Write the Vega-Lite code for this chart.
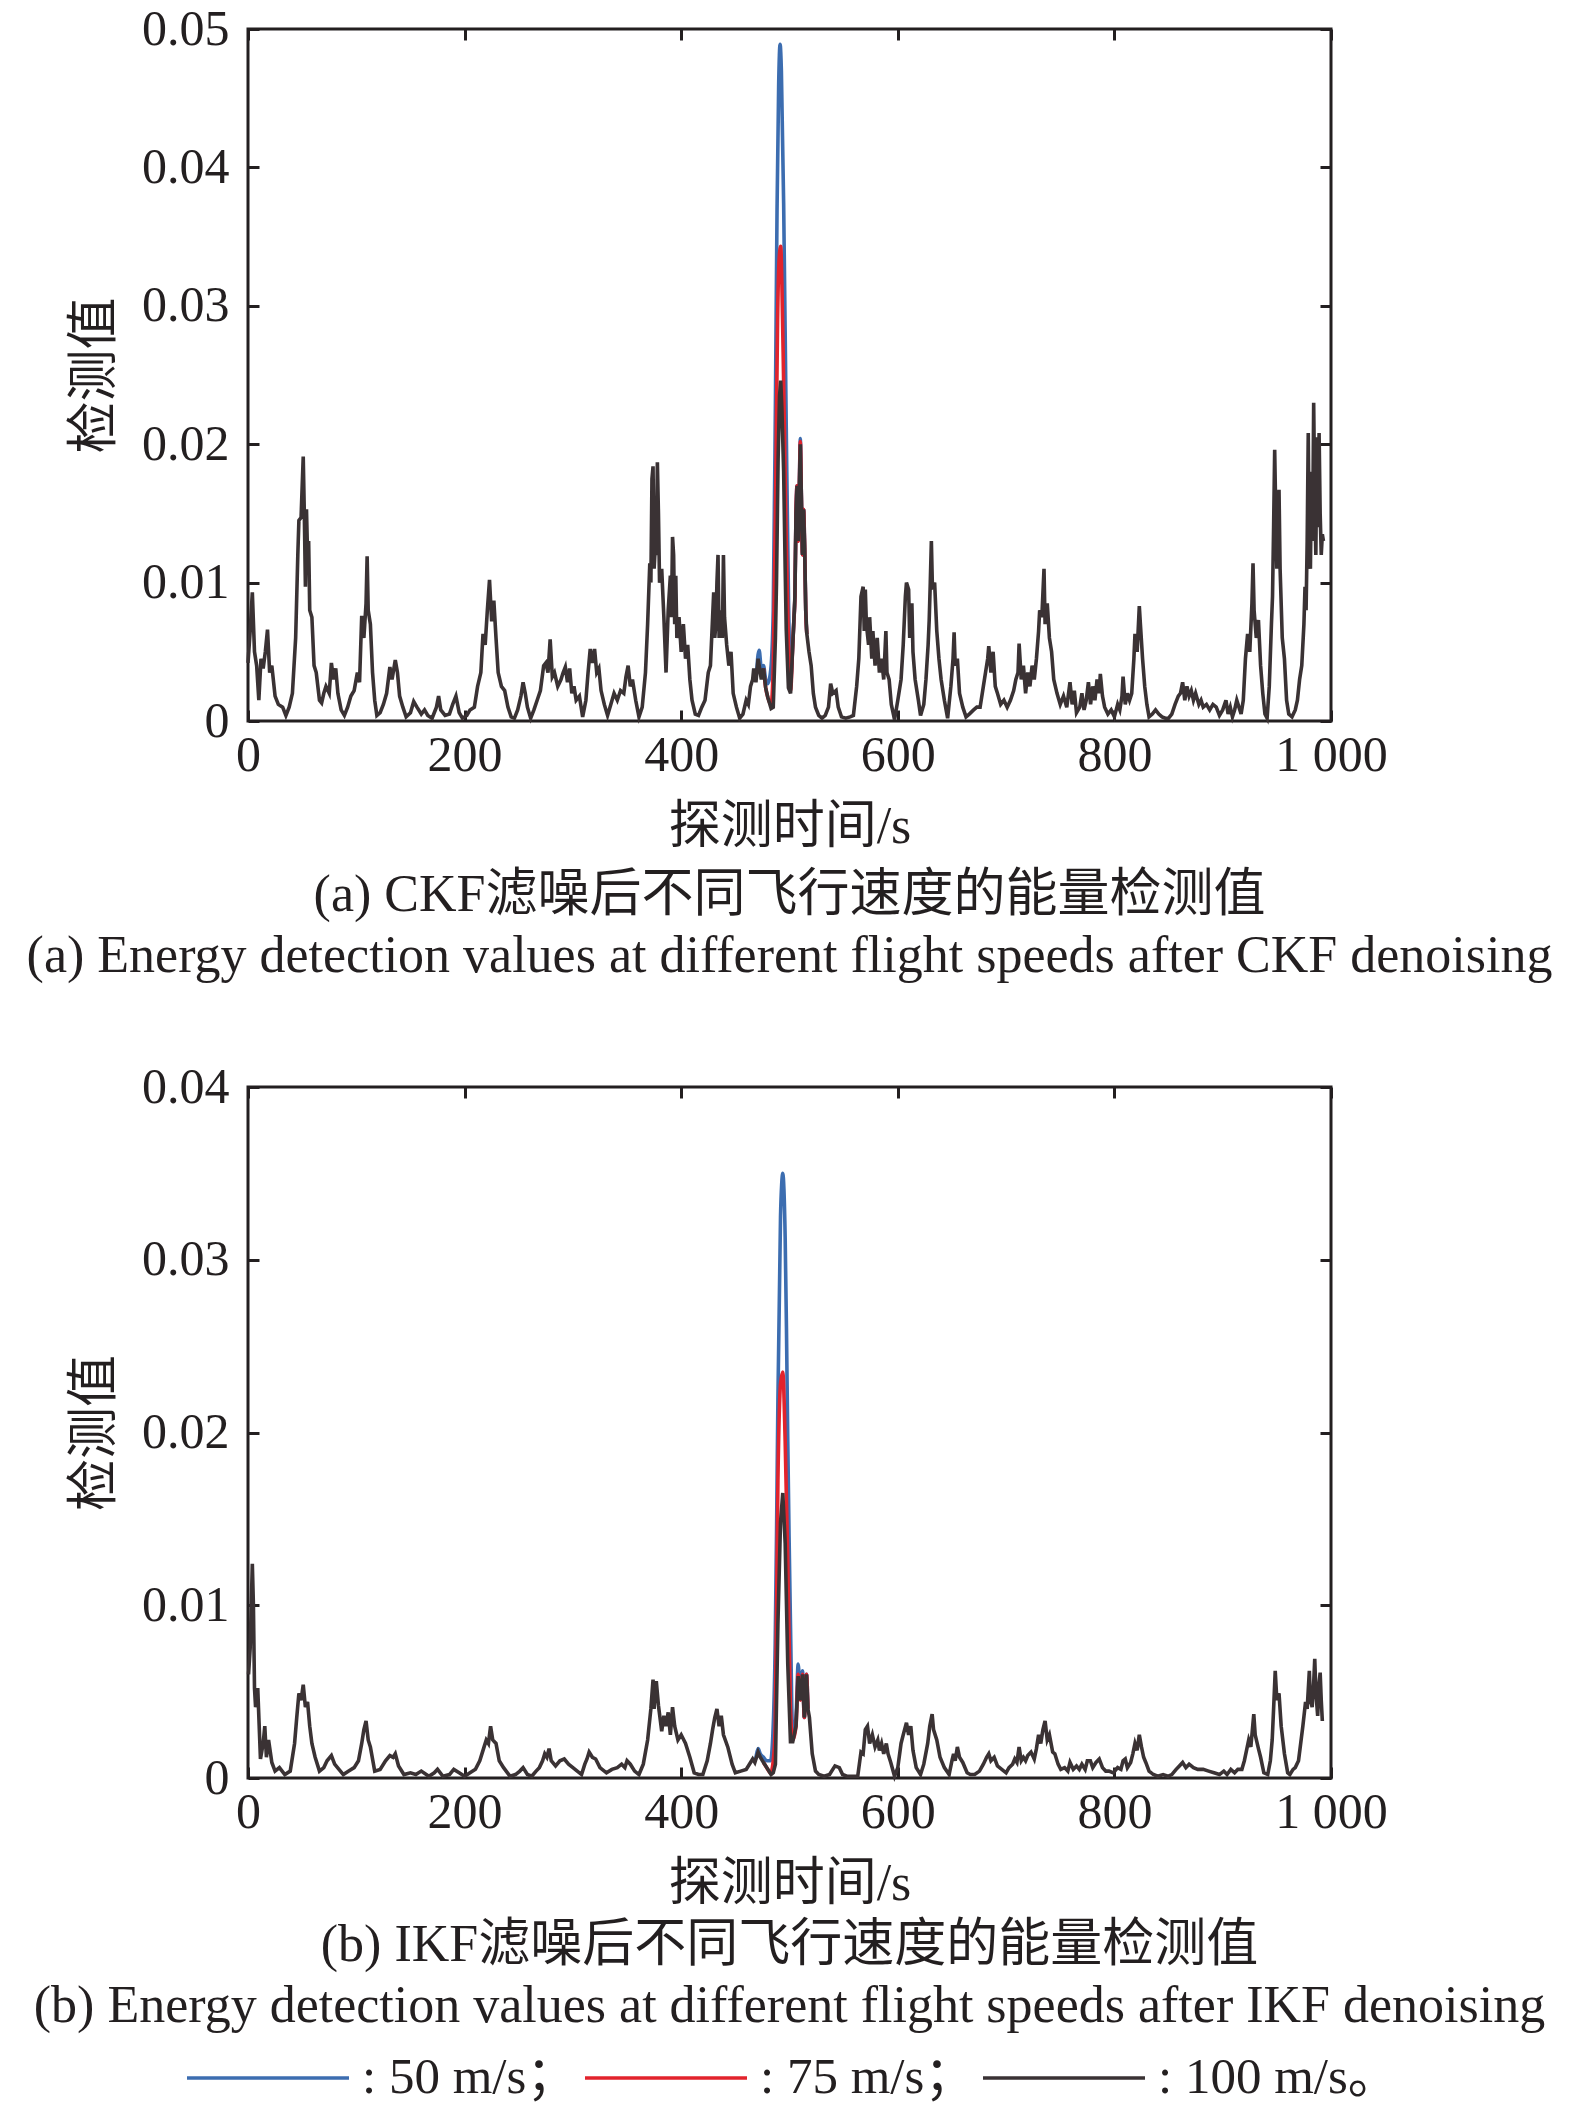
{
  "$schema": "https://vega.github.io/schema/vega-lite/v6.json",
  "padding": {"left": 25, "top": 2, "right": 0, "bottom": 0},
  "background": "white",
  "spacing": 76,
  "datasets": {
    "a": [
      {"t":466,"v":0.0030,"s":"50"},{"t":469,"v":0.0032,"s":"50"},{"t":471,"v":0.0048,"s":"50"},{"t":472,"v":0.0051,"s":"50"},{"t":474,"v":0.0038,"s":"50"},{"t":476,"v":0.0040,"s":"50"},{"t":478,"v":0.0030,"s":"50"},{"t":480,"v":0.0027,"s":"50"},{"t":482.7,"v":0.0037,"s":"50"},{"t":485,"v":0.0080,"s":"50"},{"t":487,"v":0.0230,"s":"50"},{"t":488.5,"v":0.0370,"s":"50"},{"t":490,"v":0.0460,"s":"50"},{"t":491.3,"v":0.0489,"s":"50"},{"t":492.5,"v":0.0470,"s":"50"},{"t":494.6,"v":0.0374,"s":"50"},{"t":497,"v":0.0212,"s":"50"},{"t":499.2,"v":0.0082,"s":"50"},{"t":501,"v":0.0030,"s":"50"},{"t":503,"v":0.0055,"s":"50"},{"t":504,"v":0.0072,"s":"50"},{"t":505,"v":0.0090,"s":"50"},{"t":506,"v":0.0150,"s":"50"},{"t":507,"v":0.0170,"s":"50"},{"t":508,"v":0.0130,"s":"50"},{"t":509,"v":0.0165,"s":"50"},{"t":510,"v":0.0204,"s":"50"},{"t":511,"v":0.0160,"s":"50"},{"t":512,"v":0.0120,"s":"50"},{"t":513,"v":0.0153,"s":"50"},{"t":514,"v":0.0125,"s":"50"},{"t":515,"v":0.0080,"s":"50"},{"t":516,"v":0.0063,"s":"50"},
      {"t":476,"v":0.0038,"s":"75"},{"t":478,"v":0.0024,"s":"75"},{"t":480,"v":0.0017,"s":"75"},{"t":483,"v":0.0012,"s":"75"},{"t":485,"v":0.0040,"s":"75"},{"t":487.6,"v":0.0190,"s":"75"},{"t":489,"v":0.0290,"s":"75"},{"t":490.5,"v":0.0335,"s":"75"},{"t":491.9,"v":0.0343,"s":"75"},{"t":493,"v":0.0315,"s":"75"},{"t":494.6,"v":0.0244,"s":"75"},{"t":497,"v":0.0130,"s":"75"},{"t":499.2,"v":0.0050,"s":"75"},{"t":501,"v":0.0022,"s":"75"},{"t":503,"v":0.0055,"s":"75"},{"t":504,"v":0.0072,"s":"75"},{"t":505,"v":0.0090,"s":"75"},{"t":506,"v":0.0150,"s":"75"},{"t":507,"v":0.0170,"s":"75"},{"t":508,"v":0.0130,"s":"75"},{"t":509,"v":0.0165,"s":"75"},{"t":510,"v":0.0202,"s":"75"},{"t":511,"v":0.0160,"s":"75"},{"t":512,"v":0.0120,"s":"75"},{"t":513,"v":0.0153,"s":"75"},{"t":514,"v":0.0125,"s":"75"},{"t":515,"v":0.0080,"s":"75"},{"t":516,"v":0.0063,"s":"75"},
      {"t":0,"v":0.0042,"s":"100"},{"t":2,"v":0.0065,"s":"100"},{"t":4,"v":0.0093,"s":"100"},{"t":6,"v":0.0050,"s":"100"},{"t":8,"v":0.0040,"s":"100"},{"t":10,"v":0.0015,"s":"100"},{"t":12,"v":0.0045,"s":"100"},{"t":14,"v":0.0038,"s":"100"},{"t":16,"v":0.0050,"s":"100"},{"t":18,"v":0.0066,"s":"100"},{"t":20,"v":0.0035,"s":"100"},{"t":22,"v":0.0040,"s":"100"},{"t":25,"v":0.0018,"s":"100"},{"t":28,"v":0.0012,"s":"100"},{"t":32,"v":0.0010,"s":"100"},{"t":35,"v":0.0004,"s":"100"},{"t":38,"v":0.0010,"s":"100"},{"t":41,"v":0.0020,"s":"100"},{"t":44,"v":0.0060,"s":"100"},{"t":46,"v":0.0120,"s":"100"},{"t":47,"v":0.0145,"s":"100"},{"t":49,"v":0.0147,"s":"100"},{"t":51,"v":0.0191,"s":"100"},{"t":52,"v":0.0150,"s":"100"},{"t":53,"v":0.0097,"s":"100"},{"t":54,"v":0.0153,"s":"100"},{"t":55,"v":0.0120,"s":"100"},{"t":56,"v":0.0130,"s":"100"},{"t":57,"v":0.0080,"s":"100"},{"t":59,"v":0.0075,"s":"100"},{"t":61,"v":0.0040,"s":"100"},{"t":63,"v":0.0035,"s":"100"},{"t":66,"v":0.0015,"s":"100"},{"t":68,"v":0.0013,"s":"100"},{"t":70,"v":0.0020,"s":"100"},{"t":72,"v":0.0025,"s":"100"},{"t":75,"v":0.0020,"s":"100"},{"t":77,"v":0.0042,"s":"100"},{"t":79,"v":0.0030,"s":"100"},{"t":81,"v":0.0038,"s":"100"},{"t":83,"v":0.0020,"s":"100"},{"t":86,"v":0.0008,"s":"100"},{"t":89,"v":0.0004,"s":"100"},{"t":92,"v":0.0010,"s":"100"},{"t":95,"v":0.0018,"s":"100"},{"t":98,"v":0.0022,"s":"100"},{"t":101,"v":0.0035,"s":"100"},{"t":103,"v":0.0028,"s":"100"},{"t":105,"v":0.0076,"s":"100"},{"t":107,"v":0.0060,"s":"100"},{"t":109,"v":0.0085,"s":"100"},{"t":110,"v":0.0119,"s":"100"},{"t":111,"v":0.0080,"s":"100"},{"t":113,"v":0.0070,"s":"100"},{"t":115,"v":0.0035,"s":"100"},{"t":117,"v":0.0015,"s":"100"},{"t":119,"v":0.0004,"s":"100"},{"t":122,"v":0.0006,"s":"100"},{"t":125,"v":0.0012,"s":"100"},{"t":128,"v":0.0020,"s":"100"},{"t":131,"v":0.0039,"s":"100"},{"t":133,"v":0.0030,"s":"100"},{"t":136,"v":0.0044,"s":"100"},{"t":138,"v":0.0035,"s":"100"},{"t":140,"v":0.0018,"s":"100"},{"t":143,"v":0.0010,"s":"100"},{"t":146,"v":0.0003,"s":"100"},{"t":150,"v":0.0006,"s":"100"},{"t":153,"v":0.0014,"s":"100"},{"t":156,"v":0.0010,"s":"100"},{"t":160,"v":0.0005,"s":"100"},{"t":163,"v":0.0008,"s":"100"},{"t":166,"v":0.0004,"s":"100"},{"t":170,"v":0.0002,"s":"100"},{"t":174,"v":0.0010,"s":"100"},{"t":176,"v":0.0018,"s":"100"},{"t":178,"v":0.0008,"s":"100"},{"t":182,"v":0.0004,"s":"100"},{"t":186,"v":0.0005,"s":"100"},{"t":189,"v":0.0012,"s":"100"},{"t":192,"v":0.0018,"s":"100"},{"t":195,"v":0.0006,"s":"100"},{"t":198,"v":0.0002,"s":"100"},{"t":202,"v":0.0004,"s":"100"},{"t":205,"v":0.0008,"s":"100"},{"t":209,"v":0.0010,"s":"100"},{"t":212,"v":0.0025,"s":"100"},{"t":215,"v":0.0035,"s":"100"},{"t":217,"v":0.0063,"s":"100"},{"t":219,"v":0.0055,"s":"100"},{"t":221,"v":0.0080,"s":"100"},{"t":223,"v":0.0102,"s":"100"},{"t":225,"v":0.0072,"s":"100"},{"t":227,"v":0.0087,"s":"100"},{"t":229,"v":0.0060,"s":"100"},{"t":231,"v":0.0035,"s":"100"},{"t":234,"v":0.0025,"s":"100"},{"t":237,"v":0.0022,"s":"100"},{"t":240,"v":0.0010,"s":"100"},{"t":243,"v":0.0003,"s":"100"},{"t":246,"v":0.0002,"s":"100"},{"t":249,"v":0.0008,"s":"100"},{"t":252,"v":0.0018,"s":"100"},{"t":254,"v":0.0028,"s":"100"},{"t":256,"v":0.0020,"s":"100"},{"t":258,"v":0.0010,"s":"100"},{"t":261,"v":0.0002,"s":"100"},{"t":264,"v":0.0008,"s":"100"},{"t":267,"v":0.0015,"s":"100"},{"t":270,"v":0.0022,"s":"100"},{"t":273,"v":0.0040,"s":"100"},{"t":275,"v":0.0042,"s":"100"},{"t":277,"v":0.0035,"s":"100"},{"t":279,"v":0.0059,"s":"100"},{"t":281,"v":0.0032,"s":"100"},{"t":283,"v":0.0035,"s":"100"},{"t":286,"v":0.0025,"s":"100"},{"t":289,"v":0.0030,"s":"100"},{"t":291,"v":0.0035,"s":"100"},{"t":293,"v":0.0039,"s":"100"},{"t":295,"v":0.0028,"s":"100"},{"t":297,"v":0.0038,"s":"100"},{"t":299,"v":0.0020,"s":"100"},{"t":301,"v":0.0025,"s":"100"},{"t":303,"v":0.0015,"s":"100"},{"t":306,"v":0.0018,"s":"100"},{"t":309,"v":0.0003,"s":"100"},{"t":312,"v":0.0015,"s":"100"},{"t":314,"v":0.0035,"s":"100"},{"t":316,"v":0.0052,"s":"100"},{"t":318,"v":0.0042,"s":"100"},{"t":320,"v":0.0052,"s":"100"},{"t":322,"v":0.0035,"s":"100"},{"t":324,"v":0.0038,"s":"100"},{"t":326,"v":0.0022,"s":"100"},{"t":329,"v":0.0012,"s":"100"},{"t":332,"v":0.0004,"s":"100"},{"t":335,"v":0.0012,"s":"100"},{"t":338,"v":0.0020,"s":"100"},{"t":341,"v":0.0015,"s":"100"},{"t":344,"v":0.0022,"s":"100"},{"t":347,"v":0.0020,"s":"100"},{"t":349,"v":0.0032,"s":"100"},{"t":351,"v":0.0040,"s":"100"},{"t":353,"v":0.0025,"s":"100"},{"t":355,"v":0.0030,"s":"100"},{"t":358,"v":0.0015,"s":"100"},{"t":361,"v":0.0003,"s":"100"},{"t":364,"v":0.0010,"s":"100"},{"t":367,"v":0.0035,"s":"100"},{"t":369,"v":0.0070,"s":"100"},{"t":371,"v":0.0114,"s":"100"},{"t":372,"v":0.0100,"s":"100"},{"t":373,"v":0.0175,"s":"100"},{"t":374,"v":0.0184,"s":"100"},{"t":375,"v":0.0110,"s":"100"},{"t":376,"v":0.0125,"s":"100"},{"t":377,"v":0.0120,"s":"100"},{"t":378,"v":0.0187,"s":"100"},{"t":379,"v":0.0150,"s":"100"},{"t":380,"v":0.0100,"s":"100"},{"t":382,"v":0.0110,"s":"100"},{"t":384,"v":0.0075,"s":"100"},{"t":386,"v":0.0035,"s":"100"},{"t":388,"v":0.0080,"s":"100"},{"t":390,"v":0.0105,"s":"100"},{"t":391,"v":0.0075,"s":"100"},{"t":392,"v":0.0133,"s":"100"},{"t":393,"v":0.0120,"s":"100"},{"t":394,"v":0.0070,"s":"100"},{"t":395,"v":0.0105,"s":"100"},{"t":396,"v":0.0060,"s":"100"},{"t":398,"v":0.0075,"s":"100"},{"t":400,"v":0.0050,"s":"100"},{"t":402,"v":0.0070,"s":"100"},{"t":404,"v":0.0045,"s":"100"},{"t":406,"v":0.0055,"s":"100"},{"t":408,"v":0.0030,"s":"100"},{"t":410,"v":0.0015,"s":"100"},{"t":413,"v":0.0005,"s":"100"},{"t":416,"v":0.0004,"s":"100"},{"t":419,"v":0.0010,"s":"100"},{"t":422,"v":0.0015,"s":"100"},{"t":425,"v":0.0035,"s":"100"},{"t":427,"v":0.0040,"s":"100"},{"t":429,"v":0.0075,"s":"100"},{"t":430,"v":0.0093,"s":"100"},{"t":431,"v":0.0060,"s":"100"},{"t":432,"v":0.0070,"s":"100"},{"t":433,"v":0.0100,"s":"100"},{"t":434,"v":0.0120,"s":"100"},{"t":435,"v":0.0060,"s":"100"},{"t":436,"v":0.0070,"s":"100"},{"t":437,"v":0.0080,"s":"100"},{"t":438,"v":0.0060,"s":"100"},{"t":439,"v":0.0120,"s":"100"},{"t":440,"v":0.0075,"s":"100"},{"t":442,"v":0.0055,"s":"100"},{"t":444,"v":0.0040,"s":"100"},{"t":446,"v":0.0050,"s":"100"},{"t":448,"v":0.0020,"s":"100"},{"t":451,"v":0.0010,"s":"100"},{"t":454,"v":0.0002,"s":"100"},{"t":457,"v":0.0005,"s":"100"},{"t":460,"v":0.0015,"s":"100"},{"t":462,"v":0.0012,"s":"100"},{"t":464,"v":0.0025,"s":"100"},{"t":466,"v":0.0030,"s":"100"},{"t":467,"v":0.0038,"s":"100"},{"t":469,"v":0.0028,"s":"100"},{"t":471,"v":0.0045,"s":"100"},{"t":472,"v":0.0040,"s":"100"},{"t":474,"v":0.0030,"s":"100"},{"t":476,"v":0.0038,"s":"100"},{"t":478,"v":0.0024,"s":"100"},{"t":480,"v":0.0017,"s":"100"},{"t":483,"v":0.0009,"s":"100"},{"t":485,"v":0.0010,"s":"100"},{"t":487,"v":0.0060,"s":"100"},{"t":488,"v":0.0100,"s":"100"},{"t":489.5,"v":0.0190,"s":"100"},{"t":490.8,"v":0.0235,"s":"100"},{"t":491.9,"v":0.0246,"s":"100"},{"t":493,"v":0.0225,"s":"100"},{"t":494.6,"v":0.0180,"s":"100"},{"t":496,"v":0.0110,"s":"100"},{"t":497,"v":0.0066,"s":"100"},{"t":499,"v":0.0024,"s":"100"},{"t":501,"v":0.0020,"s":"100"},{"t":503,"v":0.0055,"s":"100"},{"t":504,"v":0.0072,"s":"100"},{"t":505,"v":0.0090,"s":"100"},{"t":506,"v":0.0150,"s":"100"},{"t":507,"v":0.0170,"s":"100"},{"t":508,"v":0.0130,"s":"100"},{"t":509,"v":0.0165,"s":"100"},{"t":510,"v":0.0200,"s":"100"},{"t":511,"v":0.0160,"s":"100"},{"t":512,"v":0.0120,"s":"100"},{"t":513,"v":0.0153,"s":"100"},{"t":514,"v":0.0125,"s":"100"},{"t":515,"v":0.0080,"s":"100"},{"t":516,"v":0.0063,"s":"100"},{"t":518,"v":0.0050,"s":"100"},{"t":520,"v":0.0040,"s":"100"},{"t":522,"v":0.0020,"s":"100"},{"t":524,"v":0.0010,"s":"100"},{"t":527,"v":0.0004,"s":"100"},{"t":530,"v":0.0002,"s":"100"},{"t":533,"v":0.0004,"s":"100"},{"t":536,"v":0.0010,"s":"100"},{"t":538,"v":0.0027,"s":"100"},{"t":540,"v":0.0020,"s":"100"},{"t":543,"v":0.0022,"s":"100"},{"t":545,"v":0.0010,"s":"100"},{"t":548,"v":0.0003,"s":"100"},{"t":552,"v":0.0002,"s":"100"},{"t":556,"v":0.0003,"s":"100"},{"t":559,"v":0.0004,"s":"100"},{"t":562,"v":0.0025,"s":"100"},{"t":564,"v":0.0045,"s":"100"},{"t":566,"v":0.0090,"s":"100"},{"t":568,"v":0.0097,"s":"100"},{"t":569,"v":0.0065,"s":"100"},{"t":570,"v":0.0095,"s":"100"},{"t":571,"v":0.0070,"s":"100"},{"t":573,"v":0.0055,"s":"100"},{"t":574,"v":0.0075,"s":"100"},{"t":576,"v":0.0045,"s":"100"},{"t":577,"v":0.0065,"s":"100"},{"t":579,"v":0.0040,"s":"100"},{"t":581,"v":0.0060,"s":"100"},{"t":583,"v":0.0035,"s":"100"},{"t":585,"v":0.0045,"s":"100"},{"t":587,"v":0.0030,"s":"100"},{"t":589,"v":0.0065,"s":"100"},{"t":590,"v":0.0035,"s":"100"},{"t":592,"v":0.0030,"s":"100"},{"t":594,"v":0.0012,"s":"100"},{"t":597,"v":0.0001,"s":"100"},{"t":600,"v":0.0015,"s":"100"},{"t":603,"v":0.0030,"s":"100"},{"t":605,"v":0.0055,"s":"100"},{"t":607,"v":0.0090,"s":"100"},{"t":608,"v":0.0100,"s":"100"},{"t":610,"v":0.0095,"s":"100"},{"t":611,"v":0.0060,"s":"100"},{"t":613,"v":0.0085,"s":"100"},{"t":614,"v":0.0050,"s":"100"},{"t":616,"v":0.0030,"s":"100"},{"t":619,"v":0.0015,"s":"100"},{"t":621,"v":0.0004,"s":"100"},{"t":624,"v":0.0012,"s":"100"},{"t":626,"v":0.0030,"s":"100"},{"t":628,"v":0.0055,"s":"100"},{"t":629,"v":0.0073,"s":"100"},{"t":630,"v":0.0100,"s":"100"},{"t":631,"v":0.0130,"s":"100"},{"t":632,"v":0.0095,"s":"100"},{"t":634,"v":0.0100,"s":"100"},{"t":636,"v":0.0065,"s":"100"},{"t":638,"v":0.0045,"s":"100"},{"t":640,"v":0.0030,"s":"100"},{"t":643,"v":0.0015,"s":"100"},{"t":646,"v":0.0002,"s":"100"},{"t":649,"v":0.0025,"s":"100"},{"t":651,"v":0.0045,"s":"100"},{"t":652,"v":0.0064,"s":"100"},{"t":653,"v":0.0040,"s":"100"},{"t":655,"v":0.0045,"s":"100"},{"t":657,"v":0.0020,"s":"100"},{"t":660,"v":0.0010,"s":"100"},{"t":663,"v":0.0003,"s":"100"},{"t":666,"v":0.0005,"s":"100"},{"t":670,"v":0.0008,"s":"100"},{"t":673,"v":0.0010,"s":"100"},{"t":676,"v":0.0010,"s":"100"},{"t":679,"v":0.0025,"s":"100"},{"t":681,"v":0.0035,"s":"100"},{"t":683,"v":0.0045,"s":"100"},{"t":684,"v":0.0054,"s":"100"},{"t":686,"v":0.0035,"s":"100"},{"t":688,"v":0.0050,"s":"100"},{"t":690,"v":0.0025,"s":"100"},{"t":692,"v":0.0020,"s":"100"},{"t":695,"v":0.0012,"s":"100"},{"t":698,"v":0.0015,"s":"100"},{"t":701,"v":0.0010,"s":"100"},{"t":704,"v":0.0015,"s":"100"},{"t":707,"v":0.0022,"s":"100"},{"t":709,"v":0.0030,"s":"100"},{"t":711,"v":0.0035,"s":"100"},{"t":712,"v":0.0056,"s":"100"},{"t":714,"v":0.0030,"s":"100"},{"t":716,"v":0.0040,"s":"100"},{"t":718,"v":0.0020,"s":"100"},{"t":720,"v":0.0035,"s":"100"},{"t":722,"v":0.0025,"s":"100"},{"t":724,"v":0.0040,"s":"100"},{"t":726,"v":0.0030,"s":"100"},{"t":728,"v":0.0045,"s":"100"},{"t":730,"v":0.0065,"s":"100"},{"t":731,"v":0.0080,"s":"100"},{"t":733,"v":0.0075,"s":"100"},{"t":735,"v":0.0110,"s":"100"},{"t":736,"v":0.0070,"s":"100"},{"t":738,"v":0.0085,"s":"100"},{"t":740,"v":0.0060,"s":"100"},{"t":742,"v":0.0050,"s":"100"},{"t":744,"v":0.0030,"s":"100"},{"t":747,"v":0.0020,"s":"100"},{"t":750,"v":0.0012,"s":"100"},{"t":753,"v":0.0018,"s":"100"},{"t":756,"v":0.0010,"s":"100"},{"t":759,"v":0.0028,"s":"100"},{"t":761,"v":0.0012,"s":"100"},{"t":763,"v":0.0022,"s":"100"},{"t":765,"v":0.0006,"s":"100"},{"t":768,"v":0.0010,"s":"100"},{"t":770,"v":0.0020,"s":"100"},{"t":772,"v":0.0008,"s":"100"},{"t":774,"v":0.0015,"s":"100"},{"t":776,"v":0.0028,"s":"100"},{"t":778,"v":0.0012,"s":"100"},{"t":780,"v":0.0025,"s":"100"},{"t":782,"v":0.0015,"s":"100"},{"t":784,"v":0.0030,"s":"100"},{"t":786,"v":0.0020,"s":"100"},{"t":787,"v":0.0034,"s":"100"},{"t":789,"v":0.0018,"s":"100"},{"t":791,"v":0.0010,"s":"100"},{"t":794,"v":0.0005,"s":"100"},{"t":797,"v":0.0008,"s":"100"},{"t":800,"v":0.0003,"s":"100"},{"t":803,"v":0.0012,"s":"100"},{"t":805,"v":0.0008,"s":"100"},{"t":807,"v":0.0018,"s":"100"},{"t":808,"v":0.0032,"s":"100"},{"t":810,"v":0.0012,"s":"100"},{"t":812,"v":0.0020,"s":"100"},{"t":814,"v":0.0015,"s":"100"},{"t":816,"v":0.0020,"s":"100"},{"t":818,"v":0.0045,"s":"100"},{"t":819,"v":0.0063,"s":"100"},{"t":821,"v":0.0050,"s":"100"},{"t":823,"v":0.0083,"s":"100"},{"t":824,"v":0.0070,"s":"100"},{"t":826,"v":0.0045,"s":"100"},{"t":828,"v":0.0025,"s":"100"},{"t":830,"v":0.0012,"s":"100"},{"t":832,"v":0.0003,"s":"100"},{"t":835,"v":0.0005,"s":"100"},{"t":838,"v":0.0008,"s":"100"},{"t":841,"v":0.0005,"s":"100"},{"t":844,"v":0.0003,"s":"100"},{"t":847,"v":0.0002,"s":"100"},{"t":850,"v":0.0002,"s":"100"},{"t":853,"v":0.0005,"s":"100"},{"t":856,"v":0.0012,"s":"100"},{"t":859,"v":0.0018,"s":"100"},{"t":861,"v":0.0020,"s":"100"},{"t":863,"v":0.0028,"s":"100"},{"t":865,"v":0.0015,"s":"100"},{"t":867,"v":0.0025,"s":"100"},{"t":869,"v":0.0018,"s":"100"},{"t":871,"v":0.0022,"s":"100"},{"t":873,"v":0.0015,"s":"100"},{"t":875,"v":0.0020,"s":"100"},{"t":878,"v":0.0012,"s":"100"},{"t":880,"v":0.0015,"s":"100"},{"t":882,"v":0.0010,"s":"100"},{"t":885,"v":0.0012,"s":"100"},{"t":888,"v":0.0008,"s":"100"},{"t":891,"v":0.0012,"s":"100"},{"t":894,"v":0.0010,"s":"100"},{"t":897,"v":0.0004,"s":"100"},{"t":900,"v":0.0008,"s":"100"},{"t":903,"v":0.0015,"s":"100"},{"t":905,"v":0.0005,"s":"100"},{"t":907,"v":0.0010,"s":"100"},{"t":909,"v":0.0003,"s":"100"},{"t":911,"v":0.0008,"s":"100"},{"t":913,"v":0.0015,"s":"100"},{"t":915,"v":0.0010,"s":"100"},{"t":917,"v":0.0005,"s":"100"},{"t":919,"v":0.0015,"s":"100"},{"t":921,"v":0.0045,"s":"100"},{"t":923,"v":0.0063,"s":"100"},{"t":925,"v":0.0050,"s":"100"},{"t":927,"v":0.0085,"s":"100"},{"t":928,"v":0.0114,"s":"100"},{"t":929,"v":0.0080,"s":"100"},{"t":931,"v":0.0060,"s":"100"},{"t":933,"v":0.0073,"s":"100"},{"t":935,"v":0.0040,"s":"100"},{"t":937,"v":0.0020,"s":"100"},{"t":939,"v":0.0005,"s":"100"},{"t":941,"v":0.0002,"s":"100"},{"t":943,"v":0.0025,"s":"100"},{"t":945,"v":0.0070,"s":"100"},{"t":946,"v":0.0090,"s":"100"},{"t":947,"v":0.0140,"s":"100"},{"t":948,"v":0.0196,"s":"100"},{"t":949,"v":0.0150,"s":"100"},{"t":950,"v":0.0110,"s":"100"},{"t":951,"v":0.0130,"s":"100"},{"t":952,"v":0.0167,"s":"100"},{"t":953,"v":0.0110,"s":"100"},{"t":955,"v":0.0060,"s":"100"},{"t":957,"v":0.0045,"s":"100"},{"t":959,"v":0.0015,"s":"100"},{"t":961,"v":0.0005,"s":"100"},{"t":964,"v":0.0003,"s":"100"},{"t":967,"v":0.0008,"s":"100"},{"t":969,"v":0.0015,"s":"100"},{"t":971,"v":0.0030,"s":"100"},{"t":973,"v":0.0040,"s":"100"},{"t":975,"v":0.0070,"s":"100"},{"t":976,"v":0.0097,"s":"100"},{"t":977,"v":0.0080,"s":"100"},{"t":978,"v":0.0130,"s":"100"},{"t":979,"v":0.0208,"s":"100"},{"t":980,"v":0.0120,"s":"100"},{"t":981,"v":0.0110,"s":"100"},{"t":982,"v":0.0180,"s":"100"},{"t":983,"v":0.0130,"s":"100"},{"t":984,"v":0.0230,"s":"100"},{"t":985,"v":0.0160,"s":"100"},{"t":986,"v":0.0120,"s":"100"},{"t":987,"v":0.0205,"s":"100"},{"t":988,"v":0.0140,"s":"100"},{"t":989,"v":0.0208,"s":"100"},{"t":990,"v":0.0150,"s":"100"},{"t":991,"v":0.0120,"s":"100"},{"t":992,"v":0.0135,"s":"100"},{"t":993,"v":0.0130,"s":"100"}
    ],
    "b": [
      {"t":466,"v":0.0011,"s":"50"},{"t":468,"v":0.0010,"s":"50"},{"t":471,"v":0.0017,"s":"50"},{"t":473,"v":0.0014,"s":"50"},{"t":476,"v":0.0012,"s":"50"},{"t":479,"v":0.0010,"s":"50"},{"t":482.5,"v":0.0010,"s":"50"},{"t":484.7,"v":0.0026,"s":"50"},{"t":486.8,"v":0.0078,"s":"50"},{"t":488,"v":0.0140,"s":"50"},{"t":489.3,"v":0.0219,"s":"50"},{"t":491.7,"v":0.0325,"s":"50"},{"t":492.8,"v":0.0344,"s":"50"},{"t":493.8,"v":0.0350,"s":"50"},{"t":494.9,"v":0.0340,"s":"50"},{"t":496,"v":0.0313,"s":"50"},{"t":497.2,"v":0.0260,"s":"50"},{"t":498.4,"v":0.0195,"s":"50"},{"t":499.6,"v":0.0140,"s":"50"},{"t":500.9,"v":0.0089,"s":"50"},{"t":503,"v":0.0025,"s":"50"},{"t":506,"v":0.0035,"s":"50"},{"t":508,"v":0.0066,"s":"50"},{"t":510,"v":0.0048,"s":"50"},{"t":512,"v":0.0062,"s":"50"},{"t":513.7,"v":0.0035,"s":"50"},{"t":515.7,"v":0.0060,"s":"50"},{"t":517,"v":0.0040,"s":"50"},
      {"t":476,"v":0.0009,"s":"75"},{"t":479,"v":0.0006,"s":"75"},{"t":482.5,"v":0.0003,"s":"75"},{"t":485,"v":0.0010,"s":"75"},{"t":486.8,"v":0.0030,"s":"75"},{"t":489.3,"v":0.0172,"s":"75"},{"t":491.7,"v":0.0228,"s":"75"},{"t":493.8,"v":0.0235,"s":"75"},{"t":496,"v":0.0195,"s":"75"},{"t":498.4,"v":0.0125,"s":"75"},{"t":500.9,"v":0.0040,"s":"75"},{"t":503,"v":0.0022,"s":"75"},{"t":506,"v":0.0030,"s":"75"},{"t":508,"v":0.0060,"s":"75"},{"t":510,"v":0.0045,"s":"75"},{"t":512,"v":0.0060,"s":"75"},{"t":513.7,"v":0.0035,"s":"75"},{"t":515.7,"v":0.0060,"s":"75"},{"t":517,"v":0.0040,"s":"75"},
      {"t":0.5,"v":0.0060,"s":"100"},{"t":2,"v":0.0075,"s":"100"},{"t":4,"v":0.0124,"s":"100"},{"t":5,"v":0.0100,"s":"100"},{"t":6,"v":0.0052,"s":"100"},{"t":7,"v":0.0041,"s":"100"},{"t":9,"v":0.0052,"s":"100"},{"t":11.5,"v":0.0011,"s":"100"},{"t":14,"v":0.0020,"s":"100"},{"t":15.5,"v":0.0030,"s":"100"},{"t":17,"v":0.0012,"s":"100"},{"t":19,"v":0.0022,"s":"100"},{"t":22,"v":0.0009,"s":"100"},{"t":25,"v":0.0004,"s":"100"},{"t":29,"v":0.0006,"s":"100"},{"t":34,"v":0.0002,"s":"100"},{"t":39,"v":0.0004,"s":"100"},{"t":43,"v":0.0020,"s":"100"},{"t":45,"v":0.0035,"s":"100"},{"t":47,"v":0.0049,"s":"100"},{"t":49,"v":0.0045,"s":"100"},{"t":51,"v":0.0054,"s":"100"},{"t":53,"v":0.0041,"s":"100"},{"t":55,"v":0.0044,"s":"100"},{"t":57,"v":0.0030,"s":"100"},{"t":59,"v":0.0020,"s":"100"},{"t":62,"v":0.0012,"s":"100"},{"t":66,"v":0.0004,"s":"100"},{"t":70,"v":0.0006,"s":"100"},{"t":73,"v":0.0010,"s":"100"},{"t":77,"v":0.0013,"s":"100"},{"t":80,"v":0.0008,"s":"100"},{"t":84,"v":0.0005,"s":"100"},{"t":88,"v":0.0002,"s":"100"},{"t":93,"v":0.0004,"s":"100"},{"t":98,"v":0.0006,"s":"100"},{"t":102,"v":0.0010,"s":"100"},{"t":105,"v":0.0020,"s":"100"},{"t":107,"v":0.0028,"s":"100"},{"t":109,"v":0.0033,"s":"100"},{"t":111,"v":0.0022,"s":"100"},{"t":113,"v":0.0018,"s":"100"},{"t":117,"v":0.0004,"s":"100"},{"t":122,"v":0.0005,"s":"100"},{"t":127,"v":0.0010,"s":"100"},{"t":131,"v":0.0013,"s":"100"},{"t":134,"v":0.0012,"s":"100"},{"t":136,"v":0.0014,"s":"100"},{"t":139,"v":0.0007,"s":"100"},{"t":144,"v":0.0002,"s":"100"},{"t":150,"v":0.0003,"s":"100"},{"t":155,"v":0.0002,"s":"100"},{"t":160,"v":0.0004,"s":"100"},{"t":167,"v":0.0001,"s":"100"},{"t":172,"v":0.0003,"s":"100"},{"t":175,"v":0.0005,"s":"100"},{"t":180,"v":0.0001,"s":"100"},{"t":186,"v":0.0002,"s":"100"},{"t":190,"v":0.0005,"s":"100"},{"t":195,"v":0.0003,"s":"100"},{"t":200,"v":0.0001,"s":"100"},{"t":205,"v":0.0003,"s":"100"},{"t":210,"v":0.0005,"s":"100"},{"t":214,"v":0.0010,"s":"100"},{"t":218,"v":0.0018,"s":"100"},{"t":220,"v":0.0022,"s":"100"},{"t":222,"v":0.0020,"s":"100"},{"t":224,"v":0.0030,"s":"100"},{"t":226,"v":0.0022,"s":"100"},{"t":229,"v":0.0020,"s":"100"},{"t":232,"v":0.0010,"s":"100"},{"t":236,"v":0.0006,"s":"100"},{"t":242,"v":0.0001,"s":"100"},{"t":247,"v":0.0002,"s":"100"},{"t":251,"v":0.0004,"s":"100"},{"t":254,"v":0.0006,"s":"100"},{"t":258,"v":0.0002,"s":"100"},{"t":262,"v":0.0001,"s":"100"},{"t":266,"v":0.0004,"s":"100"},{"t":269,"v":0.0006,"s":"100"},{"t":272,"v":0.0010,"s":"100"},{"t":274,"v":0.0014,"s":"100"},{"t":276,"v":0.0012,"s":"100"},{"t":278,"v":0.0017,"s":"100"},{"t":280,"v":0.0010,"s":"100"},{"t":284,"v":0.0007,"s":"100"},{"t":288,"v":0.0010,"s":"100"},{"t":292,"v":0.0011,"s":"100"},{"t":296,"v":0.0008,"s":"100"},{"t":300,"v":0.0006,"s":"100"},{"t":304,"v":0.0004,"s":"100"},{"t":308,"v":0.0002,"s":"100"},{"t":311,"v":0.0008,"s":"100"},{"t":313,"v":0.0011,"s":"100"},{"t":315,"v":0.0015,"s":"100"},{"t":318,"v":0.0012,"s":"100"},{"t":321,"v":0.0011,"s":"100"},{"t":325,"v":0.0006,"s":"100"},{"t":331,"v":0.0003,"s":"100"},{"t":336,"v":0.0005,"s":"100"},{"t":341,"v":0.0006,"s":"100"},{"t":345,"v":0.0008,"s":"100"},{"t":348,"v":0.0006,"s":"100"},{"t":350,"v":0.0010,"s":"100"},{"t":353,"v":0.0008,"s":"100"},{"t":357,"v":0.0004,"s":"100"},{"t":361,"v":0.0002,"s":"100"},{"t":365,"v":0.0008,"s":"100"},{"t":369,"v":0.0022,"s":"100"},{"t":372,"v":0.0040,"s":"100"},{"t":374,"v":0.0057,"s":"100"},{"t":375,"v":0.0040,"s":"100"},{"t":376,"v":0.0050,"s":"100"},{"t":377,"v":0.0056,"s":"100"},{"t":379,"v":0.0042,"s":"100"},{"t":382,"v":0.0027,"s":"100"},{"t":384,"v":0.0036,"s":"100"},{"t":386,"v":0.0030,"s":"100"},{"t":388,"v":0.0038,"s":"100"},{"t":390,"v":0.0025,"s":"100"},{"t":392,"v":0.0041,"s":"100"},{"t":394,"v":0.0030,"s":"100"},{"t":397,"v":0.0022,"s":"100"},{"t":400,"v":0.0025,"s":"100"},{"t":404,"v":0.0020,"s":"100"},{"t":408,"v":0.0012,"s":"100"},{"t":412,"v":0.0003,"s":"100"},{"t":416,"v":0.0002,"s":"100"},{"t":420,"v":0.0002,"s":"100"},{"t":424,"v":0.0010,"s":"100"},{"t":427,"v":0.0020,"s":"100"},{"t":429,"v":0.0028,"s":"100"},{"t":431,"v":0.0035,"s":"100"},{"t":433,"v":0.0040,"s":"100"},{"t":435,"v":0.0030,"s":"100"},{"t":437,"v":0.0036,"s":"100"},{"t":439,"v":0.0025,"s":"100"},{"t":443,"v":0.0018,"s":"100"},{"t":447,"v":0.0008,"s":"100"},{"t":450,"v":0.0003,"s":"100"},{"t":455,"v":0.0004,"s":"100"},{"t":460,"v":0.0005,"s":"100"},{"t":463,"v":0.0008,"s":"100"},{"t":466,"v":0.0011,"s":"100"},{"t":468,"v":0.0009,"s":"100"},{"t":471,"v":0.0015,"s":"100"},{"t":473,"v":0.0012,"s":"100"},{"t":476,"v":0.0009,"s":"100"},{"t":479,"v":0.0006,"s":"100"},{"t":483,"v":0.0002,"s":"100"},{"t":485,"v":0.0003,"s":"100"},{"t":487,"v":0.0008,"s":"100"},{"t":489.3,"v":0.0089,"s":"100"},{"t":491.7,"v":0.0148,"s":"100"},{"t":493.8,"v":0.0165,"s":"100"},{"t":496,"v":0.0136,"s":"100"},{"t":498.4,"v":0.0066,"s":"100"},{"t":500.9,"v":0.0021,"s":"100"},{"t":503,"v":0.0021,"s":"100"},{"t":506,"v":0.0030,"s":"100"},{"t":508,"v":0.0059,"s":"100"},{"t":510,"v":0.0045,"s":"100"},{"t":512,"v":0.0060,"s":"100"},{"t":513.7,"v":0.0035,"s":"100"},{"t":515.7,"v":0.0060,"s":"100"},{"t":517,"v":0.0040,"s":"100"},{"t":518.4,"v":0.0035,"s":"100"},{"t":521,"v":0.0014,"s":"100"},{"t":524,"v":0.0004,"s":"100"},{"t":527,"v":0.0002,"s":"100"},{"t":532,"v":0.0001,"s":"100"},{"t":537,"v":0.0002,"s":"100"},{"t":542,"v":0.0007,"s":"100"},{"t":546,"v":0.0006,"s":"100"},{"t":549,"v":0.0002,"s":"100"},{"t":553,"v":0.0001,"s":"100"},{"t":558,"v":0.0001,"s":"100"},{"t":563,"v":0.0001,"s":"100"},{"t":566,"v":0.0015,"s":"100"},{"t":568,"v":0.0014,"s":"100"},{"t":570,"v":0.0028,"s":"100"},{"t":572,"v":0.0030,"s":"100"},{"t":574,"v":0.0020,"s":"100"},{"t":576.5,"v":0.0025,"s":"100"},{"t":579,"v":0.0018,"s":"100"},{"t":581.5,"v":0.0022,"s":"100"},{"t":583,"v":0.0016,"s":"100"},{"t":585,"v":0.0020,"s":"100"},{"t":587,"v":0.0014,"s":"100"},{"t":589.4,"v":0.0020,"s":"100"},{"t":591,"v":0.0014,"s":"100"},{"t":593.5,"v":0.0009,"s":"100"},{"t":597,"v":0.0001,"s":"100"},{"t":600,"v":0.0006,"s":"100"},{"t":603,"v":0.0020,"s":"100"},{"t":605,"v":0.0025,"s":"100"},{"t":608,"v":0.0032,"s":"100"},{"t":610,"v":0.0025,"s":"100"},{"t":612,"v":0.0030,"s":"100"},{"t":614,"v":0.0016,"s":"100"},{"t":617,"v":0.0006,"s":"100"},{"t":621,"v":0.0002,"s":"100"},{"t":624,"v":0.0008,"s":"100"},{"t":627.6,"v":0.0020,"s":"100"},{"t":629.5,"v":0.0030,"s":"100"},{"t":631.7,"v":0.0037,"s":"100"},{"t":633,"v":0.0028,"s":"100"},{"t":636,"v":0.0022,"s":"100"},{"t":639,"v":0.0012,"s":"100"},{"t":643,"v":0.0006,"s":"100"},{"t":647.4,"v":0.0002,"s":"100"},{"t":650,"v":0.0010,"s":"100"},{"t":651.5,"v":0.0014,"s":"100"},{"t":653,"v":0.0010,"s":"100"},{"t":655,"v":0.0018,"s":"100"},{"t":657,"v":0.0012,"s":"100"},{"t":660,"v":0.0009,"s":"100"},{"t":664,"v":0.0003,"s":"100"},{"t":667,"v":0.0002,"s":"100"},{"t":671,"v":0.0002,"s":"100"},{"t":675.4,"v":0.0004,"s":"100"},{"t":679,"v":0.0008,"s":"100"},{"t":682,"v":0.0012,"s":"100"},{"t":684,"v":0.0014,"s":"100"},{"t":686,"v":0.0010,"s":"100"},{"t":689,"v":0.0012,"s":"100"},{"t":692,"v":0.0007,"s":"100"},{"t":696,"v":0.0005,"s":"100"},{"t":700,"v":0.0003,"s":"100"},{"t":702.7,"v":0.0006,"s":"100"},{"t":706,"v":0.0008,"s":"100"},{"t":708,"v":0.0011,"s":"100"},{"t":710,"v":0.0009,"s":"100"},{"t":712,"v":0.0018,"s":"100"},{"t":714,"v":0.0010,"s":"100"},{"t":716,"v":0.0012,"s":"100"},{"t":718,"v":0.0010,"s":"100"},{"t":720,"v":0.0013,"s":"100"},{"t":723,"v":0.0015,"s":"100"},{"t":726,"v":0.0011,"s":"100"},{"t":728,"v":0.0017,"s":"100"},{"t":730,"v":0.0025,"s":"100"},{"t":732,"v":0.0020,"s":"100"},{"t":734,"v":0.0028,"s":"100"},{"t":736,"v":0.0033,"s":"100"},{"t":738,"v":0.0022,"s":"100"},{"t":740,"v":0.0025,"s":"100"},{"t":743,"v":0.0015,"s":"100"},{"t":745,"v":0.0014,"s":"100"},{"t":748,"v":0.0008,"s":"100"},{"t":750.5,"v":0.0005,"s":"100"},{"t":754,"v":0.0006,"s":"100"},{"t":757,"v":0.0004,"s":"100"},{"t":759,"v":0.0009,"s":"100"},{"t":762,"v":0.0005,"s":"100"},{"t":765,"v":0.0007,"s":"100"},{"t":767.6,"v":0.0005,"s":"100"},{"t":770,"v":0.0008,"s":"100"},{"t":773,"v":0.0005,"s":"100"},{"t":775,"v":0.0010,"s":"100"},{"t":777.8,"v":0.0010,"s":"100"},{"t":780,"v":0.0006,"s":"100"},{"t":783,"v":0.0009,"s":"100"},{"t":786,"v":0.0011,"s":"100"},{"t":789,"v":0.0006,"s":"100"},{"t":792,"v":0.0004,"s":"100"},{"t":795,"v":0.0004,"s":"100"},{"t":799,"v":0.0003,"s":"100"},{"t":803,"v":0.0006,"s":"100"},{"t":806,"v":0.0005,"s":"100"},{"t":808,"v":0.0010,"s":"100"},{"t":810,"v":0.0011,"s":"100"},{"t":812,"v":0.0006,"s":"100"},{"t":815,"v":0.0009,"s":"100"},{"t":817,"v":0.0014,"s":"100"},{"t":819,"v":0.0020,"s":"100"},{"t":821,"v":0.0016,"s":"100"},{"t":823,"v":0.0025,"s":"100"},{"t":825,"v":0.0018,"s":"100"},{"t":827,"v":0.0012,"s":"100"},{"t":829,"v":0.0009,"s":"100"},{"t":832,"v":0.0004,"s":"100"},{"t":836,"v":0.0002,"s":"100"},{"t":840,"v":0.0001,"s":"100"},{"t":845,"v":0.0002,"s":"100"},{"t":849.5,"v":0.0001,"s":"100"},{"t":853,"v":0.0002,"s":"100"},{"t":857,"v":0.0005,"s":"100"},{"t":860,"v":0.0007,"s":"100"},{"t":863,"v":0.0009,"s":"100"},{"t":866,"v":0.0006,"s":"100"},{"t":869,"v":0.0008,"s":"100"},{"t":873,"v":0.0006,"s":"100"},{"t":877,"v":0.0005,"s":"100"},{"t":882,"v":0.0005,"s":"100"},{"t":887,"v":0.0004,"s":"100"},{"t":892,"v":0.0003,"s":"100"},{"t":897,"v":0.0002,"s":"100"},{"t":901,"v":0.0004,"s":"100"},{"t":904,"v":0.0002,"s":"100"},{"t":907.5,"v":0.0005,"s":"100"},{"t":911,"v":0.0003,"s":"100"},{"t":914,"v":0.0005,"s":"100"},{"t":917.7,"v":0.0005,"s":"100"},{"t":920,"v":0.0010,"s":"100"},{"t":922,"v":0.0016,"s":"100"},{"t":924,"v":0.0022,"s":"100"},{"t":926,"v":0.0018,"s":"100"},{"t":928.7,"v":0.0037,"s":"100"},{"t":930,"v":0.0025,"s":"100"},{"t":933,"v":0.0017,"s":"100"},{"t":935,"v":0.0012,"s":"100"},{"t":938,"v":0.0003,"s":"100"},{"t":941.6,"v":0.0002,"s":"100"},{"t":944,"v":0.0010,"s":"100"},{"t":945.7,"v":0.0022,"s":"100"},{"t":947,"v":0.0040,"s":"100"},{"t":948.5,"v":0.0062,"s":"100"},{"t":950,"v":0.0045,"s":"100"},{"t":952,"v":0.0049,"s":"100"},{"t":954,"v":0.0030,"s":"100"},{"t":957,"v":0.0014,"s":"100"},{"t":960,"v":0.0003,"s":"100"},{"t":962,"v":0.0002,"s":"100"},{"t":965,"v":0.0005,"s":"100"},{"t":967,"v":0.0006,"s":"100"},{"t":970,"v":0.0010,"s":"100"},{"t":972,"v":0.0020,"s":"100"},{"t":974,"v":0.0030,"s":"100"},{"t":976.5,"v":0.0044,"s":"100"},{"t":978,"v":0.0040,"s":"100"},{"t":980,"v":0.0062,"s":"100"},{"t":981,"v":0.0045,"s":"100"},{"t":982.6,"v":0.0041,"s":"100"},{"t":984,"v":0.0055,"s":"100"},{"t":985,"v":0.0069,"s":"100"},{"t":986,"v":0.0050,"s":"100"},{"t":987.7,"v":0.0036,"s":"100"},{"t":989,"v":0.0055,"s":"100"},{"t":990,"v":0.0061,"s":"100"},{"t":991,"v":0.0045,"s":"100"},{"t":992,"v":0.0033,"s":"100"}
    ]
  },
  "vconcat": [
    {
      "width": 1083,
      "height": 692,
      "data": {"name": "a"},
      "title": {
        "text": ["(a) CKF滤噪后不同飞行速度的能量检测值", "(a) Energy detection values at different flight speeds after CKF denoising"],
        "orient": "bottom",
        "anchor": "middle",
        "offset": 18
      },
      "resolve": {"axis": {"x": "independent", "y": "independent"}},
      "layer": [
        {
          "transform": [{"filter": "datum.s == '50'"}],
          "mark": {"type": "line", "strokeWidth": 3.6, "interpolate": "monotone"},
          "encoding": {
            "x": {"field": "t", "type": "quantitative", "scale": {"domain": [0, 1000], "nice": false, "zero": false},
              "axis": {"orient": "bottom", "values": [0, 200, 400, 600, 800, 1000], "labelExpr": "datum.value == 1000 ? '1 000' : datum.label", "title": "探测时间/s", "labelPadding": 20, "titlePadding": 21}},
            "y": {"field": "v", "type": "quantitative", "scale": {"domain": [0, 0.05], "nice": false},
              "axis": {"orient": "left", "values": [0, 0.01, 0.02, 0.03, 0.04, 0.05], "format": "~g", "title": "检测值", "labelPadding": 30, "titlePadding": 20}},
            "color": {"field": "s", "type": "nominal", "scale": {"domain": ["50", "75", "100"], "range": ["#3c6db0", "#e2232c", "#3a3234"]},
              "legend": {"orient": "none", "legendX": -63, "legendY": 1966, "direction": "horizontal", "title": null,
                "labelExpr": "': ' + datum.label + ' m/s' + (datum.label == '100' ? '。' : '；')"}}
          }
        },
        {
          "transform": [{"filter": "datum.s == '75'"}],
          "mark": {"type": "line", "strokeWidth": 3.6, "interpolate": "monotone"},
          "encoding": {
            "x": {"field": "t", "type": "quantitative", "axis": {"orient": "top", "values": [0, 200, 400, 600, 800, 1000], "labels": false, "title": null}},
            "y": {"field": "v", "type": "quantitative", "axis": {"orient": "right", "values": [0, 0.01, 0.02, 0.03, 0.04, 0.05], "labels": false, "title": null}},
            "color": {"field": "s", "type": "nominal"}
          }
        },
        {
          "transform": [{"filter": "datum.s == '100'"}],
          "mark": {"type": "line", "strokeWidth": 3.6},
          "encoding": {
            "x": {"field": "t", "type": "quantitative", "axis": null},
            "y": {"field": "v", "type": "quantitative", "axis": null},
            "color": {"field": "s", "type": "nominal"}
          }
        }
      ]
    },
    {
      "width": 1083,
      "height": 691,
      "data": {"name": "b"},
      "title": {
        "text": ["(b) IKF滤噪后不同飞行速度的能量检测值", "(b) Energy detection values at different flight speeds after IKF denoising"],
        "orient": "bottom",
        "anchor": "middle",
        "offset": 11
      },
      "resolve": {"axis": {"x": "independent", "y": "independent"}},
      "layer": [
        {
          "transform": [{"filter": "datum.s == '50'"}],
          "mark": {"type": "line", "strokeWidth": 3.6, "interpolate": "monotone"},
          "encoding": {
            "x": {"field": "t", "type": "quantitative", "scale": {"domain": [0, 1000], "nice": false, "zero": false},
              "axis": {"orient": "bottom", "values": [0, 200, 400, 600, 800, 1000], "labelExpr": "datum.value == 1000 ? '1 000' : datum.label", "title": "探测时间/s", "labelPadding": 20, "titlePadding": 21}},
            "y": {"field": "v", "type": "quantitative", "scale": {"domain": [0, 0.04], "nice": false},
              "axis": {"orient": "left", "values": [0, 0.01, 0.02, 0.03, 0.04], "format": "~g", "title": "检测值", "labelPadding": 30, "titlePadding": 20}},
            "color": {"field": "s", "type": "nominal", "scale": {"domain": ["50", "75", "100"], "range": ["#3c6db0", "#e2232c", "#3a3234"]},
              "legend": {"orient": "none", "legendX": -63, "legendY": 1966, "direction": "horizontal", "title": null,
                "labelExpr": "': ' + datum.label + ' m/s' + (datum.label == '100' ? '。' : '；')"}}
          }
        },
        {
          "transform": [{"filter": "datum.s == '75'"}],
          "mark": {"type": "line", "strokeWidth": 3.6, "interpolate": "monotone"},
          "encoding": {
            "x": {"field": "t", "type": "quantitative", "axis": {"orient": "top", "values": [0, 200, 400, 600, 800, 1000], "labels": false, "title": null}},
            "y": {"field": "v", "type": "quantitative", "axis": {"orient": "right", "values": [0, 0.01, 0.02, 0.03, 0.04], "labels": false, "title": null}},
            "color": {"field": "s", "type": "nominal"}
          }
        },
        {
          "transform": [{"filter": "datum.s == '100'"}],
          "mark": {"type": "line", "strokeWidth": 3.6},
          "encoding": {
            "x": {"field": "t", "type": "quantitative", "axis": null},
            "y": {"field": "v", "type": "quantitative", "axis": null},
            "color": {"field": "s", "type": "nominal"}
          }
        }
      ]
    }
  ],
  "resolve": {"scale": {"color": "shared"}},
  "config": {
    "font": "Liberation Serif, Noto Sans CJK SC",
    "view": {"stroke": "#231f20", "strokeWidth": 3},
    "axis": {
      "domain": false,
      "grid": false,
      "ticks": true,
      "tickSize": -11,
      "tickWidth": 3,
      "tickColor": "#231f20",
      "labelFont": "Liberation Serif",
      "labelFontSize": 50,
      "labelColor": "#231f20",
      "labelFlush": false,
      "labelOverlap": false,
      "titleFont": "Liberation Serif, Noto Sans CJK SC",
      "titleFontSize": 52,
      "titleFontWeight": "normal",
      "titleColor": "#231f20"
    },
    "title": {
      "font": "Liberation Serif, Noto Sans CJK SC",
      "fontSize": 52,
      "fontWeight": "normal",
      "color": "#231f20",
      "lineHeight": 61
    },
    "legend": {
      "symbolType": "stroke",
      "symbolSize": 26244,
      "symbolStrokeWidth": 3.5,
      "labelFont": "Liberation Serif, Noto Sans CJK SC",
      "labelFontSize": 51,
      "labelColor": "#231f20",
      "labelLimit": 0,
      "labelOffset": 11,
      "columnPadding": 0
    }
  }
}
